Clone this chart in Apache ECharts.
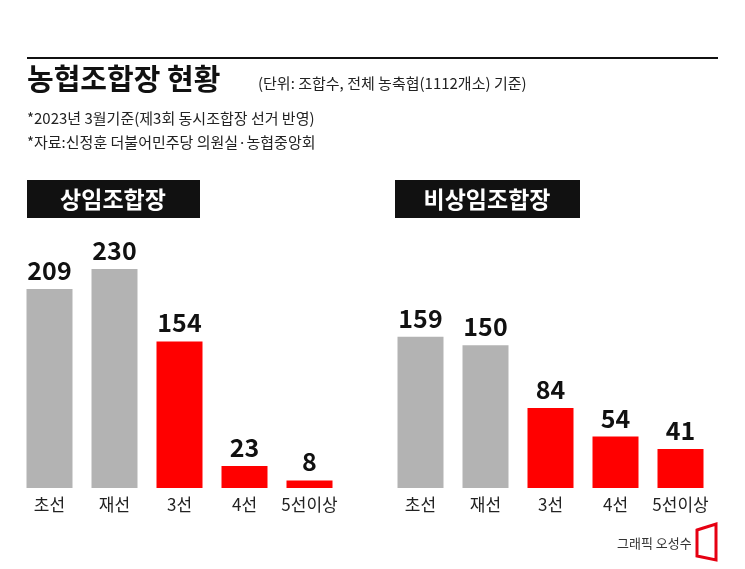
<!DOCTYPE html>
<html><head><meta charset="utf-8">
<script src="https://cdn.jsdelivr.net/npm/echarts@6/dist/echarts.min.js"></script>
<style>html,body{margin:0;padding:0;background:#fff}#c{width:745px;height:569px}</style>
</head><body><div id="c"></div>
<script>
const categories = ['초선','재선','3선','4선','5선이상'];
const standing = [209,230,154,23,8];
const nonStanding = [159,150,84,54,41];
const colors = ['#b3b3b3','#b3b3b3','#ff0000','#ff0000','#ff0000'];
const F = "'Noto Sans CJK KR','Noto Sans',sans-serif";
const chart = echarts.init(document.getElementById('c'));
function mk(vals){return vals.map((v,i)=>({value:v,itemStyle:{color:colors[i]}}));}
function xa(i){return {type:'category',gridIndex:i,data:categories,axisTick:{show:false},
  axisLine:{show:false},axisLabel:{color:'#222',fontSize:17,fontFamily:F,margin:8,interval:0}};}
function ya(i){return {type:'value',gridIndex:i,min:0,max:250,show:false,splitLine:{show:false}};}
function sr(i,d){return {type:'bar',xAxisIndex:i,yAxisIndex:i,data:mk(d),barWidth:46,
  label:{show:true,position:'top',color:'#111',fontSize:25,fontWeight:'bold',fontFamily:F,distance:6}};}
chart.setOption({
  animation:false,
  grid:[{left:17,width:325,top:250,bottom:81},{left:388,width:325,top:250,bottom:81}],
  xAxis:[xa(0),xa(1)], yAxis:[ya(0),ya(1)],
  series:[sr(0,standing),sr(1,nonStanding)],
  graphic:[
    {type:'rect',shape:{x:27,y:57,width:691,height:2},style:{fill:'#111'}},
    {type:'text',x:27,y:64,style:{text:'농협조합장 현황',fontSize:29,fontWeight:'bold',fontFamily:F,fill:'#111'}},
    {type:'text',x:258,y:76,style:{text:'(단위: 조합수, 전체 농축협(1112개소) 기준)',fontSize:15,fontFamily:F,fill:'#222'}},
    {type:'text',x:27,y:111,style:{text:'*2023년 3월기준(제3회 동시조합장 선거 반영)',fontSize:15,fontFamily:F,fill:'#222'}},
    {type:'text',x:27,y:135,style:{text:'*자료:신정훈 더불어민주당 의원실·농협중앙회',fontSize:15,fontFamily:F,fill:'#222'}},
    {type:'rect',shape:{x:27,y:180,width:173,height:38},style:{fill:'#111'}},
    {type:'text',x:113,y:199,style:{text:'상임조합장',fontSize:23,fontWeight:'bold',fontFamily:F,fill:'#fff',align:'center',verticalAlign:'middle'}},
    {type:'rect',shape:{x:395,y:180,width:185,height:38},style:{fill:'#111'}},
    {type:'text',x:487,y:199,style:{text:'비상임조합장',fontSize:23,fontWeight:'bold',fontFamily:F,fill:'#fff',align:'center',verticalAlign:'middle'}},
    {type:'text',x:617,y:537,style:{text:'그래픽 오성수',fontSize:13,fontFamily:F,fill:'#333'}},
    {type:'polygon',shape:{points:[[697,530],[716,524],[716,560],[697,556]]},style:{fill:'none',stroke:'#e60012',lineWidth:3}}
  ]
});
</script></body></html>
